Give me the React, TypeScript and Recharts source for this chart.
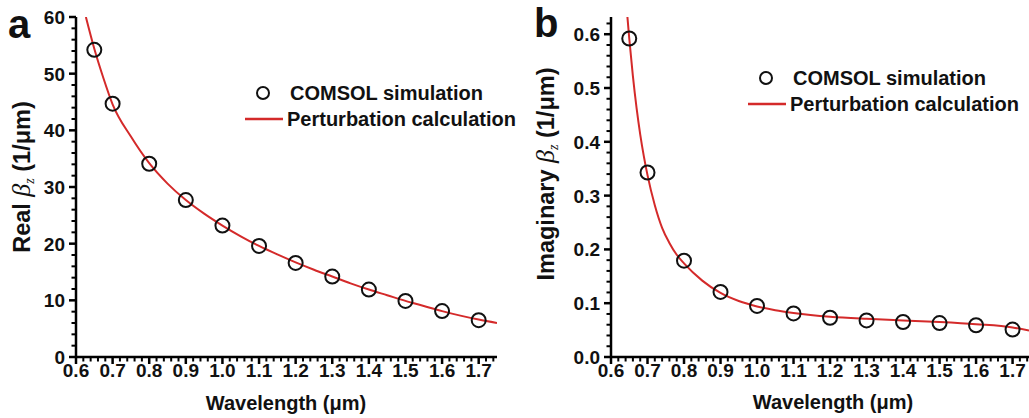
import React from 'react';
import { ComposedChart, Line, Scatter, XAxis, YAxis } from 'recharts';

// COMSOL points (both panels share the wavelengths)
const simWavelength = [0.65, 0.7, 0.8, 0.9, 1.0, 1.1, 1.2, 1.3, 1.4, 1.5, 1.6, 1.7];
const simReal = [54.2, 44.7, 34.1, 27.7, 23.2, 19.6, 16.6, 14.2, 11.9, 9.9, 8.1, 6.5];
const simImag = [0.592, 0.343, 0.179, 0.121, 0.095, 0.081, 0.073, 0.068, 0.065, 0.063, 0.059, 0.051];

// perturbation curves
const calcWavelengthReal = [0.627, 0.65, 0.675, 0.7, 0.75, 0.8, 0.85, 0.9, 0.95, 1.0, 1.05, 1.1, 1.15, 1.2, 1.25, 1.3, 1.35, 1.4, 1.45, 1.5, 1.55, 1.6, 1.65, 1.7, 1.75];
const calcReal = [60, 54.4, 49.2, 44.6, 38.9, 34.2, 30.6, 27.7, 25.3, 23.2, 21.3, 19.6, 18.1, 16.7, 15.4, 14.2, 13.0, 11.9, 10.9, 9.9, 9.0, 8.1, 7.3, 6.6, 6.0];
const calcWavelengthImag = [0.645, 0.65, 0.66, 0.67, 0.68, 0.69, 0.7, 0.72, 0.74, 0.76, 0.78, 0.8, 0.85, 0.9, 0.95, 1.0, 1.05, 1.1, 1.2, 1.3, 1.4, 1.5, 1.6, 1.7, 1.745];
const calcImag = [0.632, 0.592, 0.522, 0.463, 0.414, 0.373, 0.338, 0.282, 0.24, 0.212, 0.19, 0.174, 0.142, 0.119, 0.104, 0.094, 0.087, 0.082, 0.075, 0.071, 0.068, 0.065, 0.061, 0.055, 0.049];

// tick positions (majors get labels, the rest are minor ticks)
const xTicks = Array.from({ length: 58 }, (_, i) => +(0.6 + i * 0.02).toFixed(2));
const yTicksReal = Array.from({ length: 31 }, (_, i) => i * 2);
const yTicksImag = Array.from({ length: 32 }, (_, i) => +(i * 0.02).toFixed(2));

const FONT = '"Liberation Sans", Arial, Helvetica, sans-serif';
const RED = '#d42a2a';
const INK = '#000';

const isMajor = (v: number, step: number) => Math.abs(v / step - Math.round(v / step)) < 1e-6;

const XTick = (props: any) => {
  const { x, y, payload } = props;
  const v = payload.value;
  const major = isMajor(v, 0.1);
  return (
    <g>
      <line x1={x} x2={x} y1={y} y2={y + (major ? 7 : 4.5)} stroke={INK} strokeWidth={major ? 2.5 : 2} />
      {major && (
        <text x={x} y={y + 20} textAnchor="middle" fontFamily={FONT} fontWeight="bold" fontSize={19} fill="#111">
          {v.toFixed(1)}
        </text>
      )}
    </g>
  );
};

const makeYTick = (step: number, digits: number) => (props: any) => {
  const { x, y, payload } = props;
  const v = payload.value;
  const major = isMajor(v, step);
  return (
    <g>
      <line x1={x} x2={x - (major ? 7 : 4.5)} y1={y} y2={y} stroke={INK} strokeWidth={major ? 2.5 : 2} />
      {major && (
        <text x={x - 11} y={y + 7} textAnchor="end" fontFamily={FONT} fontWeight="bold" fontSize={19} fill="#111">
          {v.toFixed(digits)}
        </text>
      )}
    </g>
  );
};

const circle = (props: any) => (
  <circle cx={props.cx} cy={props.cy} r={7} fill="none" stroke="#111" strokeWidth={2} />
);

type PanelProps = {
  left: number;
  width: number;
  marginLeft: number;
  marginRight: number;
  xMax: number;
  yMax: number;
  yTicks: number[];
  yStep: number;
  yDigits: number;
  curve: { x: number; y: number }[];
  points: { x: number; y: number }[];
};

const Panel = (p: PanelProps) => (
  <div style={{ position: 'absolute', left: p.left, top: 0 }}>
    <ComposedChart
      width={p.width}
      height={418}
      data={p.curve}
      margin={{ top: 17, right: p.marginRight, bottom: 60, left: p.marginLeft - 1 }}
    >
      <XAxis
        dataKey="x"
        type="number"
        domain={[0.6, p.xMax]}
        allowDataOverflow
        ticks={xTicks}
        interval={0}
        height={1}
        tickSize={0}
        tickMargin={0}
        tickLine={false}
        tick={XTick}
        axisLine={{ stroke: INK, strokeWidth: 2.5 }}
      />
      <YAxis
        type="number"
        domain={[0, p.yMax]}
        allowDataOverflow
        ticks={p.yTicks}
        interval={0}
        width={1}
        tickSize={0}
        tickMargin={0}
        tickLine={false}
        tick={makeYTick(p.yStep, p.yDigits)}
        axisLine={{ stroke: INK, strokeWidth: 2.5 }}
      />
      <Line
        dataKey="y"
        type="monotone"
        stroke={RED}
        strokeWidth={2}
        dot={false}
        activeDot={false}
        isAnimationActive={false}
      />
      <Scatter data={p.points} dataKey="y" shape={circle} isAnimationActive={false} />
    </ComposedChart>
  </div>
);

const Legend2 = ({ x, y }: { x: number; y: number }) => (
  <g fontFamily={FONT} fontWeight="bold" fontSize={20} fill="#111">
    <circle cx={x + 18} cy={y} r={6} fill="none" stroke="#111" strokeWidth={2} />
    <text x={x + 45} y={y + 7}>COMSOL simulation</text>
    <line x1={x} x2={x + 38} y1={y + 26} y2={y + 26} stroke={RED} strokeWidth={2.5} />
    <text x={x + 42} y={y + 33}>Perturbation calculation</text>
  </g>
);

const YTitle = ({ cx, cy, name }: { cx: number; cy: number; name: string }) => (
  <text
    transform={`translate(${cx + 8},${cy}) rotate(-90)`}
    textAnchor="middle"
    fontFamily={FONT}
    fontWeight="bold"
    fontSize={23.5}
    fill="#111"
  >
    {name + ' '}
    <tspan fontFamily='"Liberation Serif", "DejaVu Serif", serif' fontStyle="italic" fontWeight="normal" fontSize={26}>β</tspan>
    <tspan fontFamily='"Liberation Serif", "DejaVu Serif", serif' fontStyle="italic" fontWeight="normal" fontSize={14} dy={4}>z</tspan>
    <tspan dy={-4}> (1/μm)</tspan>
  </text>
);

export default function App() {
  const curveA = calcWavelengthReal.map((x, i) => ({ x, y: calcReal[i] }));
  const curveB = calcWavelengthImag.map((x, i) => ({ x, y: calcImag[i] }));
  const pointsA = simWavelength.map((x, i) => ({ x, y: simReal[i] }));
  const pointsB = simWavelength.map((x, i) => ({ x, y: simImag[i] }));

  return (
    <div style={{ position: 'absolute', left: 0, top: 0, width: 1029, height: 418, background: '#fff', overflow: 'hidden' }}>
      <Panel
        left={0}
        width={520}
        marginLeft={76}
        marginRight={23}
        xMax={1.75}
        yMax={60}
        yTicks={yTicksReal}
        yStep={10}
        yDigits={0}
        curve={curveA}
        points={pointsA}
      />
      <Panel
        left={520}
        width={509}
        marginLeft={91}
        marginRight={0}
        xMax={1.745}
        yMax={0.632}
        yTicks={yTicksImag}
        yStep={0.1}
        yDigits={1}
        curve={curveB}
        points={pointsB}
      />
      <svg width={1029} height={418} style={{ position: 'absolute', left: 0, top: 0, pointerEvents: 'none' }}>
        <text x={8} y={38} fontFamily={FONT} fontWeight="bold" fontSize={40} fill="#111">a</text>
        <text x={534} y={37} fontFamily={FONT} fontWeight="bold" fontSize={40} fill="#111">b</text>
        <YTitle cx={22} cy={177} name="Real" />
        <YTitle cx={546} cy={174} name="Imaginary" />
        <text x={286} y={410} textAnchor="middle" fontFamily={FONT} fontWeight="bold" fontSize={20} fill="#111">Wavelength (μm)</text>
        <text x={833} y={409} textAnchor="middle" fontFamily={FONT} fontWeight="bold" fontSize={20} fill="#111">Wavelength (μm)</text>
        <Legend2 x={245} y={93} />
        <Legend2 x={748} y={78} />
      </svg>
    </div>
  );
}
